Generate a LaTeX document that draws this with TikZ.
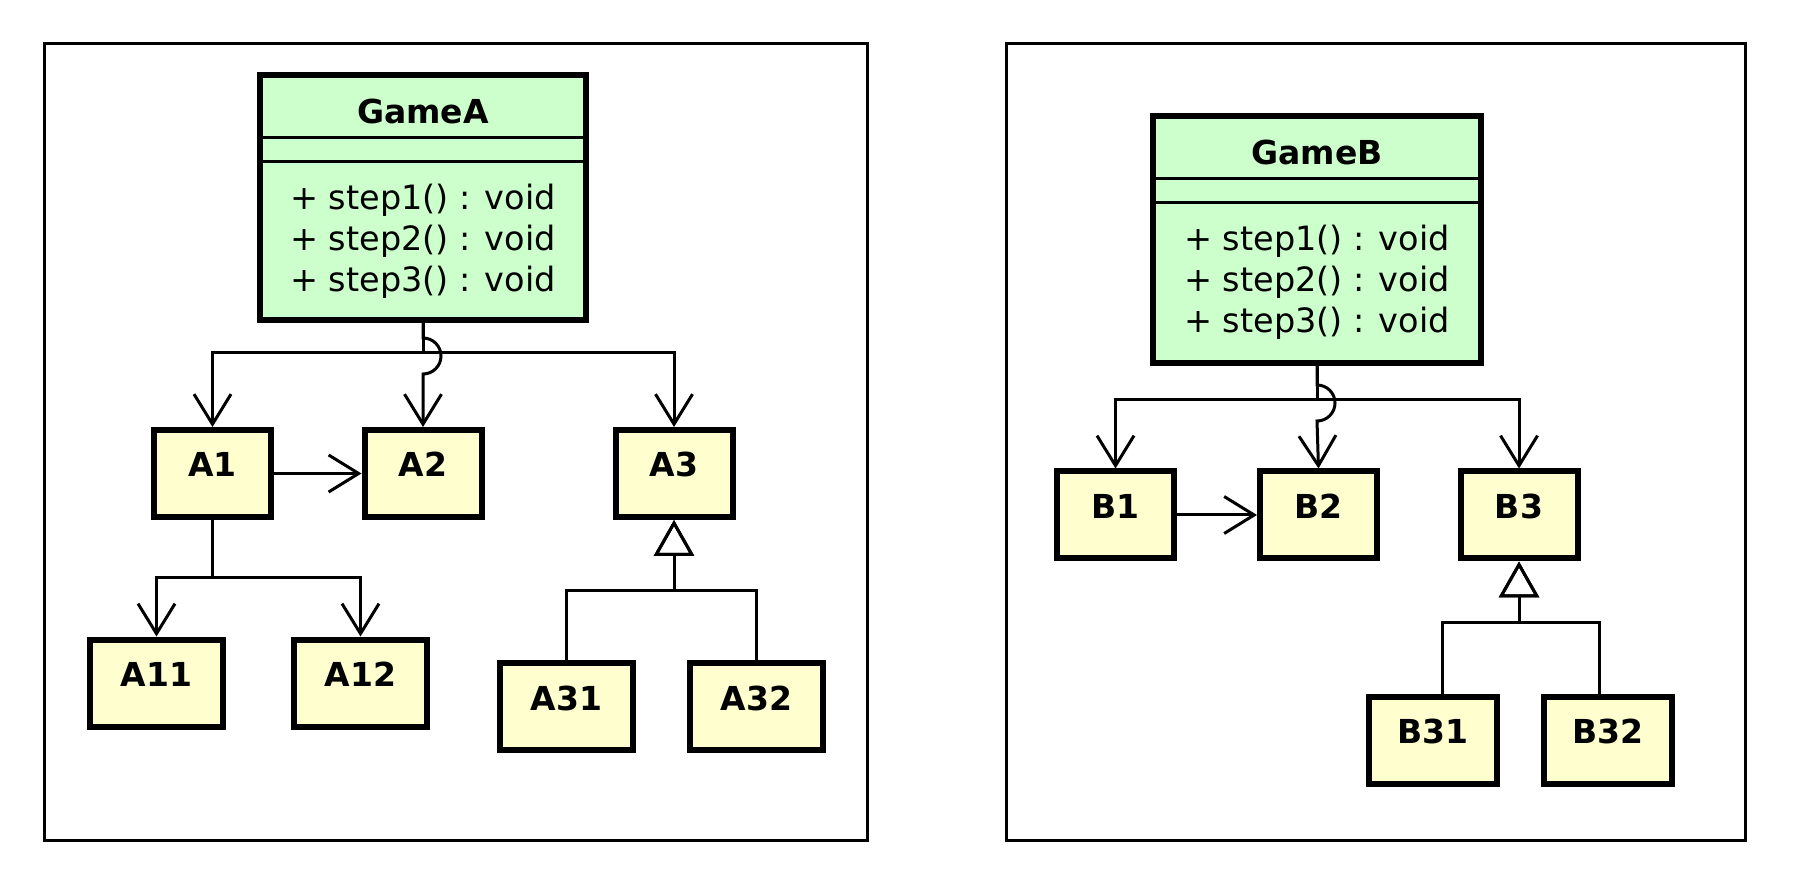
\documentclass[tikz,border=0pt]{standalone}
\usepackage{fontspec}
\setmainfont{DejaVu Sans}
\usetikzlibrary{arrows.meta}
\definecolor{gamegreen}{HTML}{CCFFCC}
\definecolor{partyellow}{HTML}{FEFECE}
\tikzstyle{panel}=[draw=black,line width=1.5pt]
\tikzstyle{game}=[rectangle,draw=black,line width=3pt,fill=gamegreen,inner sep=0mm]
\tikzstyle{leaf}=[rectangle,draw=black,line width=3pt,fill=partyellow,inner sep=0mm,minimum width=58.5pt,minimum height=43.5pt,text height=12pt,text depth=8.5pt,font=\bfseries\fontsize{16.5}{20}\selectfont]
\tikzstyle{wideleaf}=[leaf,minimum width=66.5pt]
\tikzstyle{classname}=[font=\bfseries\fontsize{16.5}{20}\selectfont,inner sep=0mm]
\tikzstyle{ops}=[font=\fontsize{16.75}{20.5}\selectfont,align=left,inner sep=0mm]
\tikzstyle{divider}=[line width=1.5pt]
\tikzstyle{uses}=[-{Straight Barb[length=15pt,width=18.5pt]},line width=1.5pt]
\tikzstyle{extends}=[-{Triangle[open,length=18pt,width=20pt]},line width=1.5pt]
\begin{document}
\begin{tikzpicture}[x=0.5pt,y=-0.5pt]
      \useasboundingbox (0,0) rectangle (1808,886);
      \draw[panel] (44,44) rectangle (867,840);
      \draw[panel] (1006.5,44) rectangle (1745.5,840);
      % left package
      \node[game,minimum width=163pt,minimum height=122.5pt] at (423,197.5) (gameA) {};
      \node[classname] at (423,111) (gameAname) {GameA};
      \node[ops] at (423,241) (gameAops) {+ step1() : void\\+ step2() : void\\+ step3() : void};
      \draw[divider] ([yshift=-33pt]gameA.north west) -- ([yshift=-33pt]gameA.north east);
      \draw[divider] ([yshift=-45pt]gameA.north west) -- ([yshift=-45pt]gameA.north east);
      \node[leaf] at (212.5,473.5) (A1) {A1};
      \node[leaf] at (423,473.5) (A2) {A2};
      \node[leaf] at (674,473.5) (A3) {A3};
      \node[wideleaf] at (156.5,683) (A11) {A11};
      \node[wideleaf] at (360.5,683) (A12) {A12};
      \node[wideleaf] at (566.5,706.5) (A31) {A31};
      \node[wideleaf] at (756.5,706.5) (A32) {A32};
      \coordinate (jA) at (423,353);
      \coordinate (jA1) at (212.5,578);
      \coordinate (jA3) at (674,591);
      \draw[uses] (gameA.south) -- (jA) -| (A1.north);
      \draw[uses] (gameA.south) -- (jA) -| (A3.north);
      \draw[uses] (gameA.south) -- ++(0,15) arc[start angle=-90,end angle=90,radius=18] -- (A2.north);
      \draw[uses] (A1) -- (A2);
      \draw[uses] (A1.south) -- (jA1) -| (A11.north);
      \draw[uses] (A1.south) -- (jA1) -| (A12.north);
      \draw[extends] (A31.north) |- (jA3) -- (A3.south);
      \draw[extends] (A32.north) |- (jA3) -- (A3.south);
      % right package
      \node[game,minimum width=164pt,minimum height=123.5pt] at (1317,239.5) (gameB) {};
      \node[classname] at (1317,152) (gameBname) {GameB};
      \node[ops] at (1317,282) (gameBops) {+ step1() : void\\+ step2() : void\\+ step3() : void};
      \draw[divider] ([yshift=-33pt]gameB.north west) -- ([yshift=-33pt]gameB.north east);
      \draw[divider] ([yshift=-45pt]gameB.north west) -- ([yshift=-45pt]gameB.north east);
      \node[leaf] at (1115.5,515) (B1) {B1};
      \node[leaf] at (1318.5,515) (B2) {B2};
      \node[leaf] at (1519,515) (B3) {B3};
      \node[leaf,minimum width=64pt] at (1433,740) (B31) {B31};
      \node[leaf,minimum width=64pt] at (1608,740) (B32) {B32};
      \coordinate (jB) at (1317,400);
      \coordinate (jB3) at (1519,623);
      \draw[uses] (gameB.south) -- (jB) -| (B1.north);
      \draw[uses] (gameB.south) -- (jB) -| (B3.north);
      \draw[uses] (gameB.south) -- ++(0,19) arc[start angle=-90,end angle=90,radius=18] -- (B2.north);
      \draw[uses] (B1) -- (B2);
      \draw[extends] ([xshift=4.5pt]B31.north) |- (jB3) -- (B3.south);
      \draw[extends] ([xshift=-4.5pt]B32.north) |- (jB3) -- (B3.south);
    \end{tikzpicture}
\end{document}
